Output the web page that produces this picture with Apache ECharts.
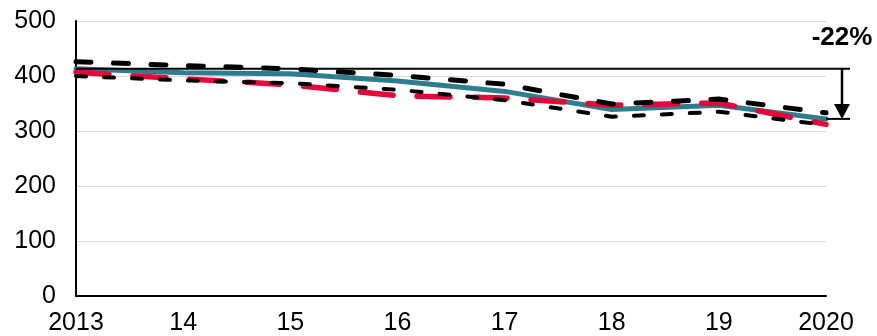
<!DOCTYPE html>
<html>
<head>
<meta charset="utf-8">
<script src="https://cdn.jsdelivr.net/npm/echarts@6/dist/echarts.min.js"></script>
<style>
  html, body { margin: 0; padding: 0; background: #fff; }
  #chart { width: 877px; height: 336px; }
</style>
</head>
<body>
<div id="chart"></div>
<script>
// Years on the horizontal axis
const years = ['2013', '14', '15', '16', '17', '18', '19', '2020'];

// Central estimate (solid teal line)
const central = [413, 406, 404, 391, 372, 339, 347, 322];
// Upper bound (black dashed)
const upper = [426, 419, 413, 401, 385, 349, 358, 333];
// Lower bound (black dashed, finer)
const lower = [400, 392, 387, 375, 356, 326, 335, 311];
// Comparison series (red dashed)
const comparison = [407, 395, 384, 364, 360, 347, 351, 312];

// Y axis ticks
const yTicks = { min: 0, max: 500, step: 100 };

// Change annotation text
const changeLabel = '-22%';

const FONT = '"Liberation Sans", Arial, sans-serif';

const chart = echarts.init(document.getElementById('chart'), null, { renderer: 'canvas' });

const option = {
  animation: false,
  backgroundColor: '#ffffff',
  grid: { left: 76, right: 51, top: 21, bottom: 39, containLabel: false },
  xAxis: {
    type: 'category',
    data: years,
    boundaryGap: false,
    axisLine: { show: true, lineStyle: { color: '#000', width: 2 } },
    axisTick: { show: false },
    axisLabel: { color: '#000', fontFamily: FONT, fontSize: 25, margin: 15 },
    splitLine: { show: false }
  },
  yAxis: {
    type: 'value',
    min: yTicks.min,
    max: yTicks.max,
    interval: yTicks.step,
    axisLine: { show: true, lineStyle: { color: '#000', width: 2 } },
    axisTick: { show: false },
    axisLabel: { color: '#000', fontFamily: FONT, fontSize: 25, margin: 20 },
    splitLine: { show: true, lineStyle: { color: '#d9d9d9', width: 1 } }
  },
  series: [
    {
      name: 'central',
      type: 'line',
      data: central,
      symbol: 'none',
      z: 2,
      lineStyle: { color: '#2e7d8e', width: 5, cap: 'round', join: 'round' }
    },
    {
      name: 'comparison',
      type: 'line',
      data: comparison,
      symbol: 'none',
      z: 3,
      lineStyle: { color: '#e5063c', width: 5.5, type: [33, 24], cap: 'round', join: 'round' }
    },
    {
      name: 'lower',
      type: 'line',
      data: lower,
      symbol: 'none',
      z: 4,
      lineStyle: { color: '#000', width: 4, type: [10, 18], cap: 'round', join: 'round' }
    },
    {
      name: 'upper',
      type: 'line',
      data: upper,
      symbol: 'none',
      z: 5,
      lineStyle: { color: '#000', width: 5, type: [15, 22.5], cap: 'round', join: 'round' }
    }
  ]
};

chart.setOption(option);

// Bracket with arrow showing the change of the central estimate from first to last year
const p0 = chart.convertToPixel({ gridIndex: 0 }, [years[0], central[0]]);
const p1 = chart.convertToPixel({ gridIndex: 0 }, [years[years.length - 1], central[central.length - 1]]);
const ax = p1[0] + 16;
const endX = p1[0] + 24;
const headH = 15;
const headW = 8;

chart.setOption({
  graphic: [
    {
      type: 'line', z: 10,
      shape: { x1: p0[0], y1: p0[1], x2: endX, y2: p0[1] },
      style: { stroke: '#000', lineWidth: 2 }
    },
    {
      type: 'line', z: 10,
      shape: { x1: p1[0], y1: p1[1], x2: endX, y2: p1[1] },
      style: { stroke: '#000', lineWidth: 2 }
    },
    {
      type: 'line', z: 10,
      shape: { x1: ax, y1: p0[1], x2: ax, y2: p1[1] - headH + 1 },
      style: { stroke: '#000', lineWidth: 2.5 }
    },
    {
      type: 'polygon', z: 10,
      shape: { points: [[ax - headW, p1[1] - headH], [ax + headW, p1[1] - headH], [ax, p1[1]]] },
      style: { fill: '#000' }
    },
    {
      type: 'text', z: 10,
      x: ax, y: 38,
      style: {
        text: changeLabel,
        fill: '#000',
        font: 'bold 26px ' + FONT,
        align: 'center',
        verticalAlign: 'middle'
      }
    }
  ]
});
</script>
</body>
</html>
